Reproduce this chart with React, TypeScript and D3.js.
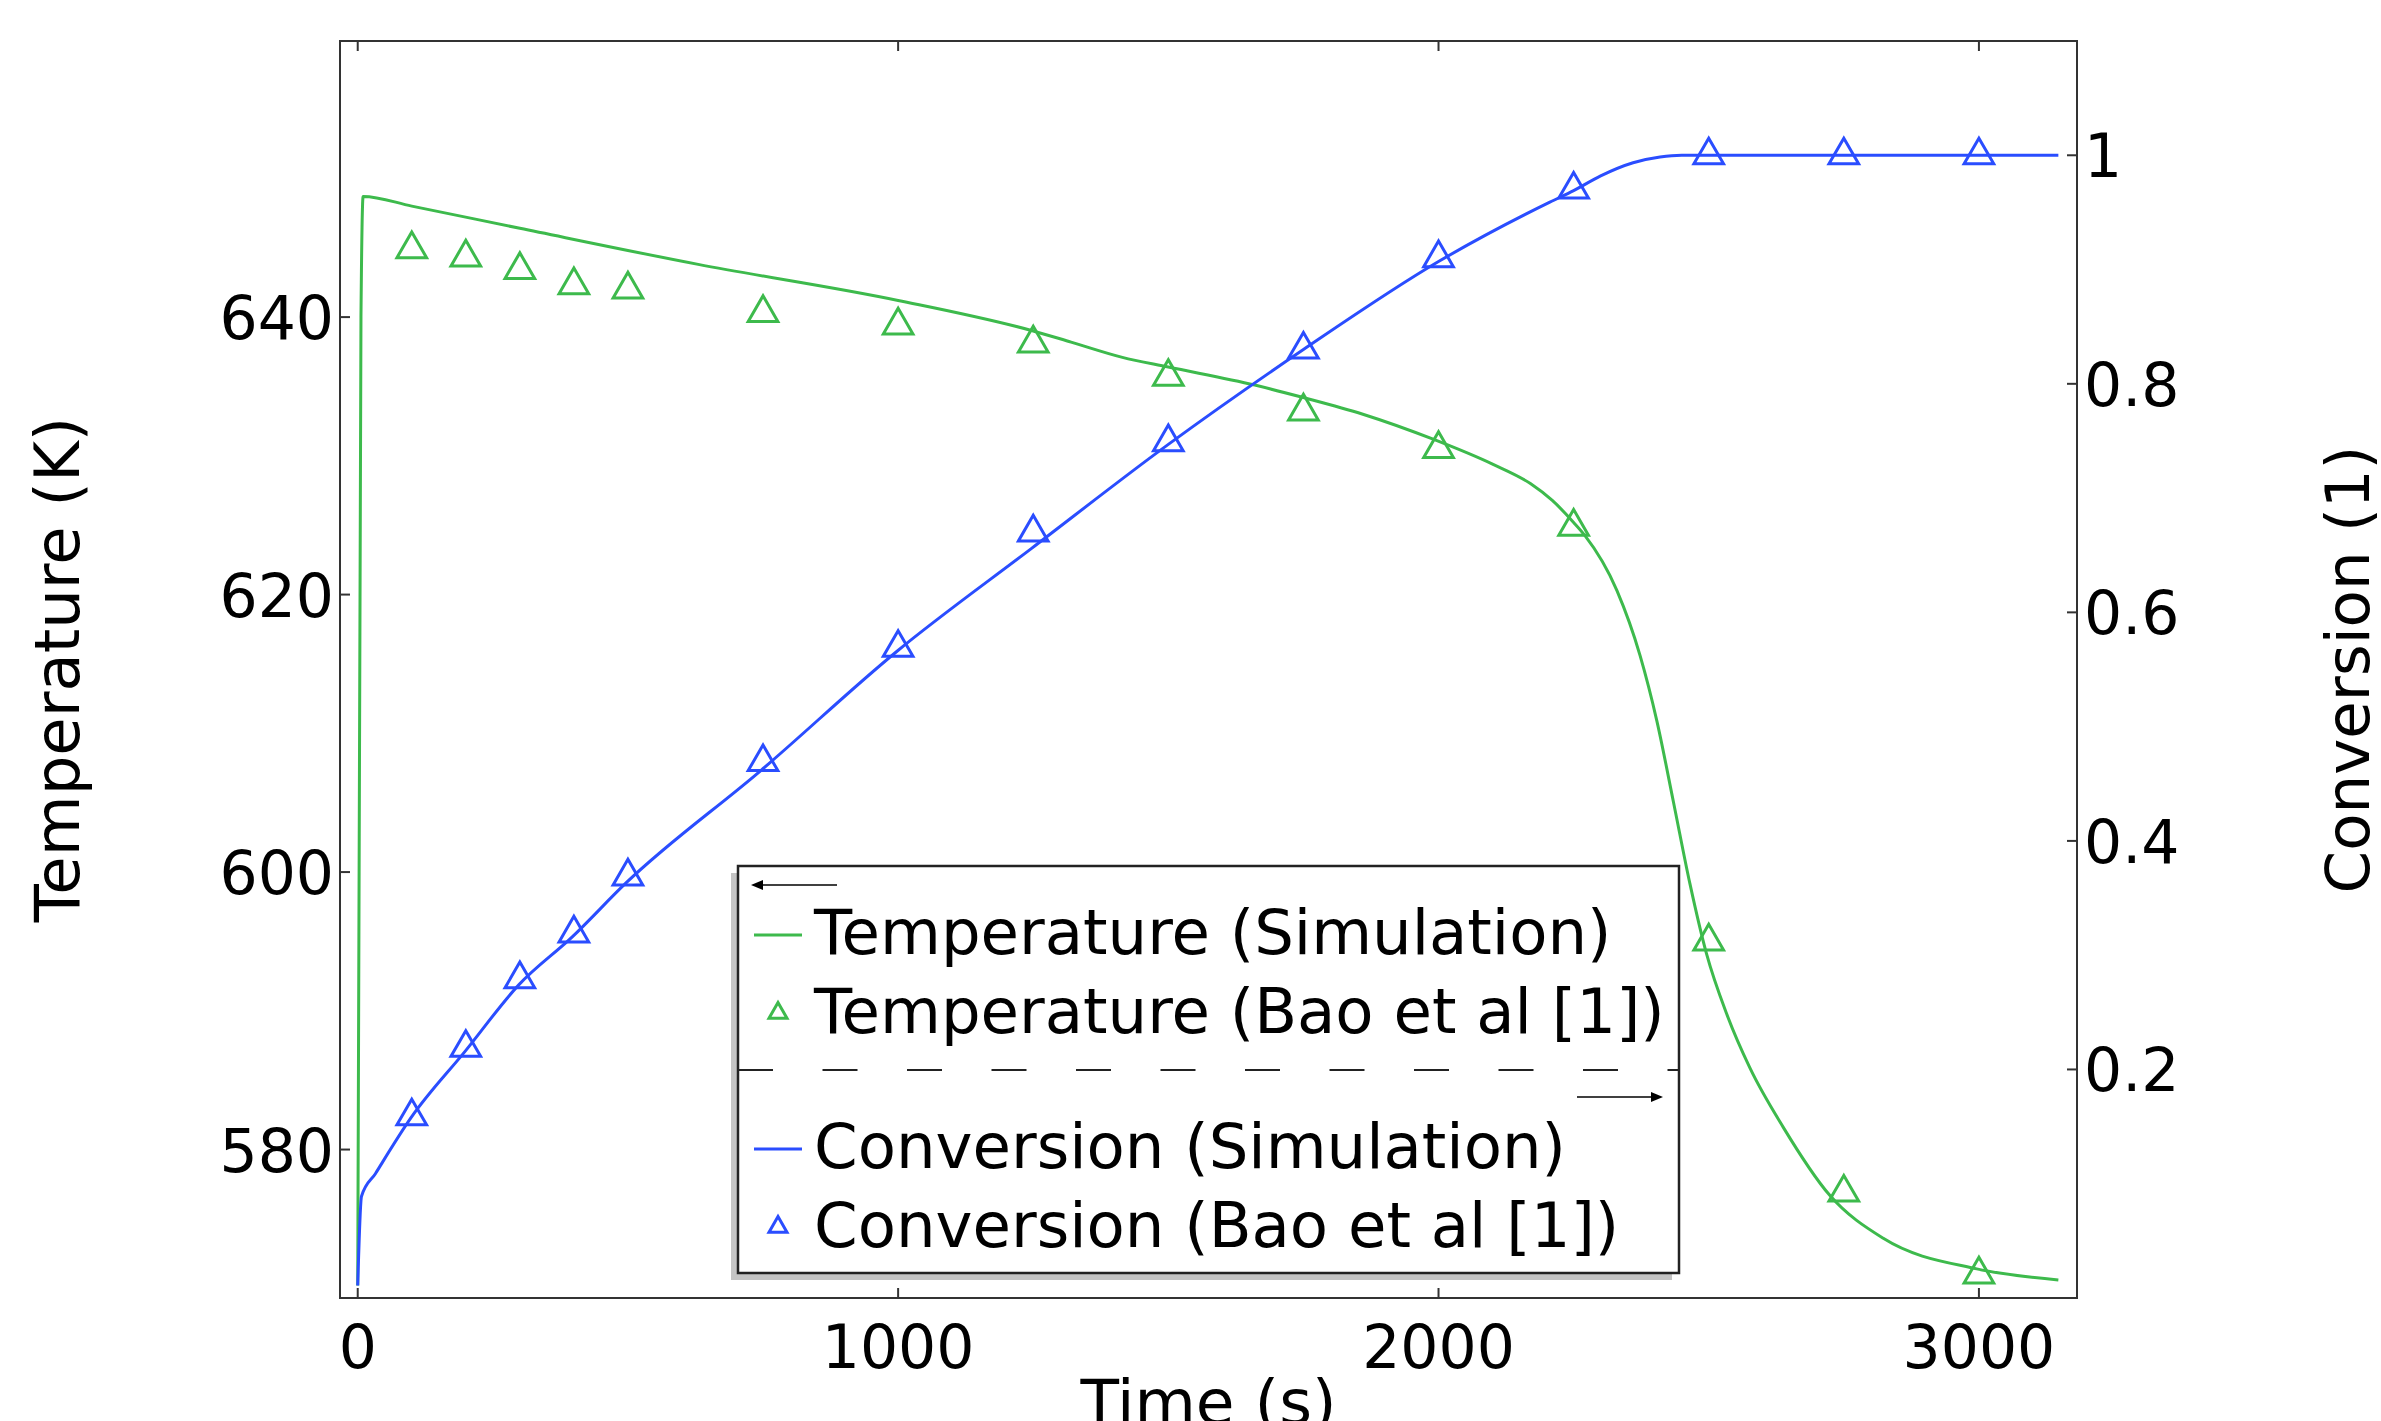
import { useMemo } from "react";
import * as d3 from "d3";

const WIDTH = 2381;
const HEIGHT = 1421;
// plot frame: x 340..2077, y 41..1298
const MARGIN = { top: 41, right: 304, bottom: 123, left: 340 };

const FONT = "'DejaVu Sans', Verdana, sans-serif";
const GREEN = "#3dba4c";
const BLUE = "#2a4dff";

// axis ticks
const timeTicks = [0, 1000, 2000, 3000];
const tempTicks = [580, 600, 620, 640];
const convTicks = [0.2, 0.4, 0.6, 0.8, 1];
const convTickLabels = ["0.2", "0.4", "0.6", "0.8", "1"];

// Temperature (Simulation)
const simTempTime = [0, 6, 10, 100, 300, 630, 1000, 1250, 1320, 1415, 1500, 1660, 1750, 1860, 1990, 2100, 2170, 2210, 2250, 2270, 2330, 2373, 2404, 2435, 2465, 2496, 2533, 2576, 2638, 2724, 2823, 2996, 3147];
const simTemp = [570.2, 640, 648.7, 648.0, 646.4, 643.8, 641.2, 639.0, 638.2, 637.1, 636.4, 635.1, 634.2, 633.0, 631.2, 629.4, 628.0, 626.8, 625.2, 624.3, 620.3, 615.6, 610.9, 605.0, 599.2, 594.1, 589.8, 585.9, 581.6, 576.7, 573.6, 571.4, 570.6];

// Conversion (Simulation)
const simConvTime = [0, 7, 33, 99, 199, 298, 397, 496, 747, 998, 1247, 1500, 1750, 2000, 2206, 2250, 2300, 2360, 2410, 2450, 3147];
const simConv = [0.011, 0.089, 0.109, 0.158, 0.216, 0.274, 0.316, 0.363, 0.462, 0.566, 0.656, 0.747, 0.83, 0.907, 0.959, 0.969, 0.982, 0.9935, 0.9985, 1.0, 1.0];

// Bao et al [1] measurements
const expTime = [100, 200, 300, 400, 500, 750, 1000, 1250, 1500, 1750, 2000, 2250, 2500, 2750, 3000];
const expTemp = [644.9, 644.3, 643.4, 642.3, 642.0, 640.3, 639.4, 638.1, 635.7, 633.2, 630.5, 624.9, 595.0, 576.9, 571.0];
const expConv = [0.159, 0.219, 0.279, 0.319, 0.369, 0.469, 0.569, 0.67, 0.749, 0.83, 0.91, 0.97, 1.0, 1.0, 1.0];

const legendRows = [
  { label: "Temperature (Simulation)", color: GREEN, kind: "line" },
  { label: "Temperature (Bao et al [1])", color: GREEN, kind: "marker" },
  { label: "Conversion (Simulation)", color: BLUE, kind: "line" },
  { label: "Conversion (Bao et al [1])", color: BLUE, kind: "marker" },
];

const Arrow = ({ x1, x2, y }: { x1: number; x2: number; y: number }) => {
  const dir = x2 > x1 ? 1 : -1;
  return (
    <g>
      <line x1={x1} x2={x2 - dir * 6} y1={y} y2={y} stroke="#000" strokeWidth={1.6} />
      <path d={`M${x2},${y} L${x2 - dir * 12},${y - 5} L${x2 - dir * 12},${y + 5} Z`} fill="#000" />
    </g>
  );
};

export default function App() {
  const left = MARGIN.left;
  const right = WIDTH - MARGIN.right;
  const top = MARGIN.top;
  const bottom = HEIGHT - MARGIN.bottom;

  const xScale = useMemo(() => d3.scaleLinear().domain([-32.8, 3181.5]).range([left, right]), []);
  const tScale = useMemo(() => d3.scaleLinear().domain([569.3, 659.9]).range([bottom, top]), []);
  const cScale = useMemo(() => d3.scaleLinear().domain([0, 1.1]).range([bottom, top]), []);

  const line = d3.line<[number, number]>().curve(d3.curveMonotoneX);

  const tempPath = line(simTempTime.map((t, i) => [xScale(t), tScale(simTemp[i])]));
  const convPath = line(simConvTime.map((t, i) => [xScale(t), cScale(simConv[i])]));

  const tri = d3.symbol().type(d3.symbolTriangle).size(380)();
  const triSmall = d3.symbol().type(d3.symbolTriangle).size(140)();

  // legend box
  const lg = { x: 738, y: 866, w: 941, h: 407 };
  const rowBase = [954, 1033, 1168, 1247];

  return (
    <svg
      width={WIDTH}
      height={HEIGHT}
      style={{ position: "absolute", left: 0, top: 0, background: "#fff" }}
      fontFamily={FONT}
    >
      <rect x={0} y={0} width={WIDTH} height={HEIGHT} fill="#fff" />

      {/* data */}
      <path d={tempPath ?? ""} fill="none" stroke={GREEN} strokeWidth={3} />
      <path d={convPath ?? ""} fill="none" stroke={BLUE} strokeWidth={3} />
      {expTime.map((t, i) => (
        <path key={`te${i}`} d={tri ?? ""} transform={`translate(${xScale(t)},${tScale(expTemp[i])})`} fill="none" stroke={GREEN} strokeWidth={3} />
      ))}
      {expTime.map((t, i) => (
        <path key={`ce${i}`} d={tri ?? ""} transform={`translate(${xScale(t)},${cScale(expConv[i])})`} fill="none" stroke={BLUE} strokeWidth={3} />
      ))}

      {/* frame */}
      <rect x={left} y={top} width={right - left} height={bottom - top} fill="none" stroke="#333" strokeWidth={2} />

      {/* x ticks (top and bottom, inward) */}
      {timeTicks.map((t) => (
        <g key={`xt${t}`}>
          <line x1={xScale(t)} x2={xScale(t)} y1={bottom} y2={bottom - 10} stroke="#333" strokeWidth={2} />
          <line x1={xScale(t)} x2={xScale(t)} y1={top} y2={top + 10} stroke="#333" strokeWidth={2} />
          <text x={xScale(t)} y={1368} fontSize={60} textAnchor="middle" fill="#000">{t}</text>
        </g>
      ))}

      {/* left axis: temperature */}
      {tempTicks.map((v) => (
        <g key={`tt${v}`}>
          <line x1={left} x2={left + 10} y1={tScale(v)} y2={tScale(v)} stroke="#333" strokeWidth={2} />
          <text x={334} y={tScale(v) + 22} fontSize={60} textAnchor="end" fill="#000">{v}</text>
        </g>
      ))}

      {/* right axis: conversion */}
      {convTicks.map((v, i) => (
        <g key={`ct${v}`}>
          <line x1={right} x2={right - 10} y1={cScale(v)} y2={cScale(v)} stroke="#333" strokeWidth={2} />
          <text x={2084} y={cScale(v) + 22} fontSize={60} textAnchor="start" fill="#000">{convTickLabels[i]}</text>
        </g>
      ))}

      {/* axis titles */}
      <text transform={`translate(79,${(top + bottom) / 2}) rotate(-90)`} fontSize={62.5} textAnchor="middle" fill="#000">Temperature (K)</text>
      <text transform={`translate(2369,${(top + bottom) / 2}) rotate(-90)`} fontSize={61} textAnchor="middle" fill="#000">Conversion (1)</text>
      <text x={(left + right) / 2} y={1424} fontSize={63} textAnchor="middle" fill="#000">Time (s)</text>

      {/* legend */}
      <rect x={lg.x - 7} y={lg.y + 7} width={lg.w} height={lg.h} fill="#c4c4c4" />
      <rect x={lg.x} y={lg.y} width={lg.w} height={lg.h} fill="#fff" stroke="#222" strokeWidth={2.5} />
      <Arrow x1={837} x2={751} y={885} />
      <line x1={lg.x} x2={lg.x + lg.w} y1={1070} y2={1070} stroke="#222" strokeWidth={2} strokeDasharray="35 49.5" />
      <Arrow x1={1577} x2={1663} y={1097} />
      {legendRows.map((r, i) => (
        <g key={r.label}>
          {r.kind === "line" ? (
            <line x1={754} x2={802} y1={rowBase[i] - 19} y2={rowBase[i] - 19} stroke={r.color} strokeWidth={3} />
          ) : (
            <path d={triSmall ?? ""} transform={`translate(778,${rowBase[i] - 20})`} fill="none" stroke={r.color} strokeWidth={3} />
          )}
          <text x={814} y={rowBase[i]} fontSize={62.5} fill="#000">{r.label}</text>
        </g>
      ))}
    </svg>
  );
}
